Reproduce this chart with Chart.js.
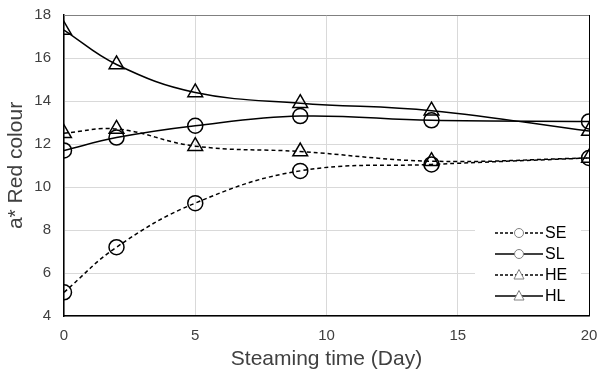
<!DOCTYPE html>
<html>
<head>
<meta charset="utf-8">
<script src="https://cdn.jsdelivr.net/npm/chart.js@4"></script>
<style>
  html, body { margin: 0; padding: 0; background: #fff; }
  #wrap { width: 599px; height: 372px; }
</style>
</head>
<body>
<div id="wrap"><canvas id="myChart" width="599" height="372"></canvas></div>
<script>
// steaming time (day)
const days = [0, 2, 5, 9, 14, 20];
// a* red colour
const se = [5.1, 7.2, 9.25, 10.75, 11.05, 11.35];
const sl = [11.7, 12.3, 12.85, 13.3, 13.1, 13.05];
const he = [12.5, 12.7, 11.9, 11.65, 11.2, 11.35];
const hl = [17.3, 15.7, 14.4, 13.9, 13.55, 12.6];

const xTicks = [0, 5, 10, 15, 20];
const yTicks = [4, 6, 8, 10, 12, 14, 16, 18];

const FONT = "'Liberation Sans', Arial, sans-serif";

function pts(vals) {
  return vals.map((v, i) => ({ x: days[i], y: v }));
}

function series(label, vals, dashed, marker) {
  return {
    label: label,
    data: pts(vals),
    borderColor: "#000",
    borderWidth: 1.5,
    borderDash: dashed ? [4, 3] : [],
    tension: 0.4,
    pointStyle: marker,
    pointRadius: marker === "triangle" ? 8.5 : 7.5,
    pointBorderWidth: 1.5,
    pointBorderColor: "#000",
    pointBackgroundColor: "rgba(0,0,0,0)",
    fill: false,
  };
}

// legend drawn by hand so it shows dash + marker like the original
const boxLegend = {
  id: "boxLegend",
  beforeDatasetsDraw(chart) {
    const ctx = chart.ctx;
    const a = chart.chartArea;
    ctx.save();
    ctx.fillStyle = "#fff";
    ctx.fillRect(a.right - 114, a.bottom - 100, 106, 93);
    ctx.restore();
  },
  afterDraw(chart) {
    const ctx = chart.ctx;
    const a = chart.chartArea;
    ctx.save();
    // plot frame: top grey, right black
    ctx.lineWidth = 1;
    ctx.strokeStyle = "#808080";
    ctx.beginPath();
    ctx.moveTo(a.left, a.top + 0.5);
    ctx.lineTo(a.right, a.top + 0.5);
    ctx.stroke();
    ctx.strokeStyle = "#000";
    ctx.beginPath();
    ctx.moveTo(a.right + 0.5, a.top);
    ctx.lineTo(a.right + 0.5, a.bottom);
    ctx.stroke();

    const items = chart.data.datasets;
    const x0 = a.right - 94;
    const x1 = a.right - 46;
    const mx = (x0 + x1) / 2;
    let y = a.bottom - 83;
    ctx.font = "16px " + FONT;
    ctx.textBaseline = "middle";
    ctx.textAlign = "left";
    items.forEach((ds) => {
      ctx.strokeStyle = "#000";
      ctx.lineWidth = 1.3;
      ctx.setLineDash(ds.borderDash.length ? [3, 2] : []);
      ctx.beginPath();
      ctx.moveTo(x0, y);
      ctx.lineTo(x1, y);
      ctx.stroke();
      ctx.setLineDash([]);
      ctx.fillStyle = "#fff";
      ctx.strokeStyle = "#808080";
      ctx.lineWidth = 1;
      ctx.beginPath();
      if (ds.pointStyle === "circle") {
        ctx.arc(mx, y, 4.5, 0, Math.PI * 2);
      } else {
        ctx.moveTo(mx, y - 5.5);
        ctx.lineTo(mx + 5, y + 4);
        ctx.lineTo(mx - 5, y + 4);
        ctx.closePath();
      }
      ctx.fill();
      ctx.stroke();
      ctx.fillStyle = "#000";
      ctx.fillText(ds.label, x1 + 2, y + 1);
      y += 21;
    });
    ctx.restore();
  },
};

const ctx = document.getElementById("myChart");
const myChart = new Chart(ctx, {
  type: "line",
  data: {
    datasets: [
      series("SE", se, true, "circle"),
      series("SL", sl, false, "circle"),
      series("HE", he, true, "triangle"),
      series("HL", hl, false, "triangle"),
    ],
  },
  options: {
    responsive: false,
    animation: false,
    layout: { padding: { left: 0, right: 8, top: 15, bottom: 0 } },
    plugins: {
      legend: { display: false },
      tooltip: { enabled: false },
    },
    scales: {
      x: {
        type: "linear",
        min: 0,
        max: 20,
        afterBuildTicks: (s) => { s.ticks = xTicks.map((v) => ({ value: v })); },
        afterFit: (s) => { s.height = 56; s.paddingLeft = 0; s.paddingRight = 0; },
        grid: { color: "#d9d9d9", lineWidth: 1, drawTicks: false },
        border: { color: "#000", width: 1.5 },
        ticks: {
          color: "#404040",
          font: { family: FONT, size: 15 },
          padding: 11,
          maxRotation: 0,
        },
        title: {
          display: true,
          text: "Steaming time (Day)",
          color: "#404040",
          font: { family: FONT, size: 21 },
          padding: { top: 0, bottom: 0 },
        },
      },
      y: {
        min: 4,
        max: 18,
        afterBuildTicks: (s) => { s.ticks = yTicks.map((v) => ({ value: v })); },
        afterFit: (s) => { s.width = 64; s.paddingTop = 0; s.paddingBottom = 0; },
        grid: { color: "#d9d9d9", lineWidth: 1, drawTicks: false },
        border: { color: "#000", width: 1.5 },
        ticks: {
          color: "#404040",
          font: { family: FONT, size: 15 },
          padding: 13,
        },
        title: {
          display: true,
          text: "a* Red colour",
          color: "#404040",
          font: { family: FONT, size: 21 },
          padding: { top: 4, bottom: 4 },
        },
      },
    },
  },
  plugins: [boxLegend],
});
</script>
</body>
</html>
